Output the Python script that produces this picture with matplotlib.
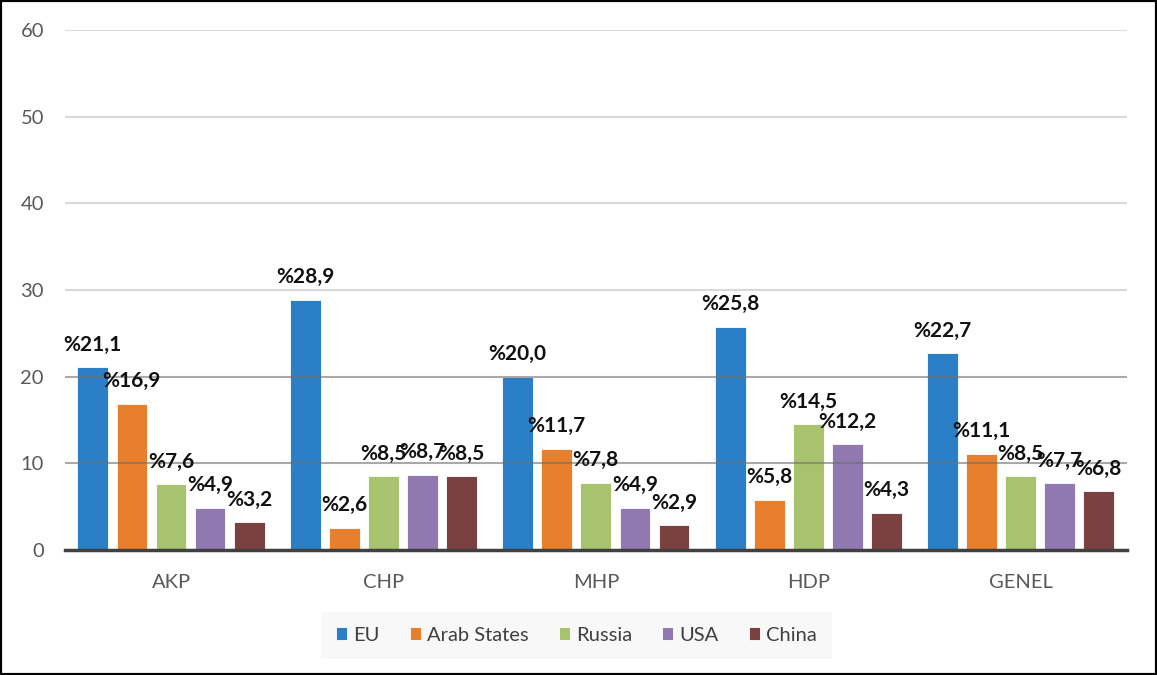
import matplotlib as mpl
mpl.use('Agg')
import matplotlib.pyplot as plt
from matplotlib.patches import Rectangle
import numpy as np

plt.rcParams['font.family'] = ['Lato', 'DejaVu Sans']

# data
parties = ['AKP', 'CHP', 'MHP', 'HDP', 'GENEL']
series = ['EU', 'Arab States', 'Russia', 'USA', 'China']
eu = [21.1, 28.9, 20.0, 25.8, 22.7]
arab = [16.9, 2.6, 11.7, 5.8, 11.1]
russia = [7.6, 8.5, 7.8, 14.5, 8.5]
usa = [4.9, 8.7, 4.9, 12.2, 7.7]
china = [3.2, 8.5, 2.9, 4.3, 6.8]
colors = ['#2a7fc7', '#e77f2d', '#a8c36e', '#9078b0', '#7b4141']
yticks = [0, 10, 20, 30, 40, 50, 60]


def fmt(v):
    return '%' + ('%.1f' % v).replace('.', ',')


fig = plt.figure(figsize=(11.57, 6.75), dpi=100)
ax = fig.add_axes([0.056, 0.185, 0.918, 0.7704])

x = np.arange(len(parties))
pitch = 0.184
width = 0.145
values = [eu, arab, russia, usa, china]
for i, (name, vals) in enumerate(zip(series, values)):
    pos = x + (i - 2) * pitch
    bars = ax.bar(pos, vals, width, color=colors[i], label=name,
                  edgecolor='#ffffff', linewidth=0.6, zorder=2)
    for b, v in zip(bars, vals):
        ax.annotate(fmt(v), (b.get_x() + b.get_width() / 2, v),
                    xytext=(0, 9), textcoords='offset points',
                    ha='center', va='bottom', fontsize=15,
                    fontweight='bold', color='#111111', zorder=5)

# gridlines
for t in yticks[1:]:
    if t <= 20:
        ax.axhline(t, color='#707070', alpha=0.6, linewidth=1.5, zorder=3)
    else:
        ax.axhline(t, color='#d9d9d9', linewidth=1.5, zorder=0)

ax.set_xlim(-0.5, 4.5)
ax.set_ylim(0, 60)
ax.set_yticks(yticks)
ax.set_xticks(x)
ax.set_xticklabels(parties)
ax.tick_params(axis='both', length=0, labelsize=14.5, labelcolor='#595959')
ax.tick_params(axis='y', pad=15)
ax.tick_params(axis='x', pad=17)
for s in ['top', 'right', 'left']:
    ax.spines[s].set_visible(False)
ax.spines['bottom'].set_color('#404040')
ax.spines['bottom'].set_linewidth(2.5)
ax.spines['bottom'].set_zorder(4)

leg = fig.legend(loc='center', bbox_to_anchor=(0.498, 0.059), ncol=5,
                 frameon=True, fontsize=14.5, handlelength=0.55,
                 handleheight=0.55, handletextpad=0.3, columnspacing=1.5,
                 borderpad=0.75)
leg.get_frame().set_facecolor('#f7f7f7')
leg.get_frame().set_edgecolor('none')
leg.get_frame().set_boxstyle('square', pad=0.0)
for t in leg.get_texts():
    t.set_color('#404040')

fig.patches.append(Rectangle((0, 0), 1, 1, transform=fig.transFigure,
                             fill=False, edgecolor='black', linewidth=3))

fig.savefig('out.png', dpi=100)
